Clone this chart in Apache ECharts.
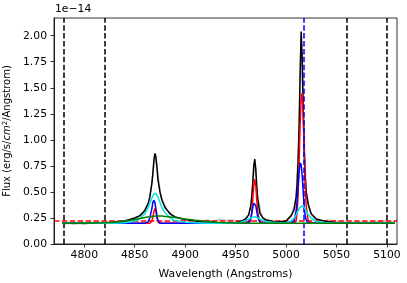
<!DOCTYPE html>
<html><head><meta charset="utf-8">
<script src="https://cdn.jsdelivr.net/npm/echarts@6/dist/echarts.min.js"></script>
<style>html,body{margin:0;padding:0;background:#fff}#c{width:407px;height:283px}</style>
</head><body><div id="c"></div>
<script>
// Wavelength grid shared by the model components (Angstrom)
const wave = [4778,4800,4820,4830,4840,4850,4855,4860,4863,4865,4867,4868,4869,4870,4871,4872,4873,4875,4877,4880,4885,4890,4900,4910,4920,4930,4940,4950,4955,4960,4963,4965,4966,4967,4968,4969,4970,4971,4972,4974,4977,4980,4990,5000,5005,5008,5010,5011,5012,5013,5014,5015,5016,5017,5018,5019,5020,5022,5025,5030,5040,5050,5060,5080,5100,5108];
// Flux values (units of 1e-14)
const totalModel = [0.20,0.20,0.205,0.21,0.22,0.25,0.27,0.32,0.38,0.45,0.58,0.68,0.80,0.87,0.84,0.74,0.62,0.50,0.42,0.35,0.29,0.26,0.235,0.222,0.212,0.207,0.204,0.205,0.215,0.24,0.28,0.36,0.45,0.58,0.75,0.815,0.72,0.55,0.43,0.30,0.25,0.23,0.21,0.22,0.27,0.33,0.45,0.58,0.80,1.15,1.65,2.04,1.80,1.30,0.90,0.65,0.50,0.38,0.29,0.24,0.215,0.205,0.20,0.20,0.20,0.20];
const narrowComp = [0.20,0.20,0.20,0.20,0.20,0.20,0.20,0.20,0.20,0.20,0.22,0.26,0.31,0.34,0.31,0.25,0.21,0.20,0.20,0.20,0.20,0.20,0.20,0.20,0.20,0.20,0.20,0.20,0.20,0.20,0.20,0.22,0.30,0.42,0.56,0.62,0.56,0.42,0.30,0.21,0.20,0.20,0.20,0.20,0.20,0.20,0.22,0.30,0.48,0.80,1.15,1.40,1.45,1.25,0.90,0.58,0.36,0.22,0.20,0.20,0.20,0.20,0.20,0.20,0.20,0.20];
const midComp = [0.20,0.20,0.20,0.20,0.20,0.20,0.20,0.20,0.21,0.25,0.34,0.40,0.42,0.40,0.34,0.28,0.23,0.20,0.20,0.20,0.20,0.20,0.20,0.20,0.20,0.20,0.20,0.20,0.20,0.20,0.21,0.25,0.29,0.35,0.39,0.40,0.37,0.31,0.26,0.21,0.20,0.20,0.20,0.20,0.20,0.22,0.32,0.42,0.56,0.70,0.78,0.76,0.66,0.50,0.36,0.27,0.23,0.20,0.20,0.20,0.20,0.20,0.20,0.20,0.20,0.20];
const broadComp = [0.20,0.20,0.20,0.20,0.205,0.22,0.24,0.29,0.34,0.39,0.44,0.46,0.48,0.487,0.485,0.47,0.45,0.40,0.35,0.30,0.25,0.225,0.21,0.205,0.20,0.20,0.20,0.20,0.21,0.225,0.24,0.25,0.255,0.258,0.26,0.262,0.26,0.256,0.252,0.24,0.225,0.215,0.205,0.205,0.22,0.25,0.28,0.30,0.32,0.34,0.355,0.362,0.365,0.36,0.35,0.335,0.315,0.28,0.245,0.215,0.203,0.20,0.20,0.20,0.20,0.20];
const veryBroadComp = [0.20,0.20,0.205,0.21,0.22,0.235,0.245,0.255,0.26,0.262,0.265,0.266,0.267,0.268,0.269,0.27,0.27,0.27,0.268,0.265,0.26,0.255,0.24,0.228,0.218,0.21,0.205,0.202,0.20,0.20,0.20,0.20,0.20,0.20,0.20,0.20,0.20,0.20,0.20,0.20,0.20,0.20,0.20,0.20,0.20,0.20,0.20,0.20,0.20,0.20,0.20,0.20,0.20,0.20,0.20,0.20,0.20,0.20,0.20,0.20,0.20,0.20,0.20,0.20,0.20,0.20];
// Observed spectrum (grey)
const dataWave = [4779,4785,4790,4795,4800,4806,4812,4818,4825,4832,4840,4846,4852,4858,4864,4868,4870,4872,4876,4882,4888,4895,4902,4908,4915,4922,4928,4934,4940,4946,4952,4958,4963,4966,4969,4972,4976,4982,4988,4994,5000,5006,5010,5013,5015,5017,5020,5024,5028,5032,5036,5042,5048,5054,5062,5070,5078,5086,5094,5100,5106,5108];
const dataFlux = [0.19,0.20,0.19,0.20,0.19,0.20,0.20,0.21,0.20,0.21,0.22,0.23,0.26,0.30,0.40,0.66,0.86,0.74,0.46,0.33,0.27,0.24,0.23,0.22,0.22,0.23,0.22,0.235,0.225,0.23,0.22,0.23,0.28,0.45,0.80,0.44,0.26,0.23,0.22,0.21,0.22,0.29,0.44,1.10,2.00,1.35,0.50,0.30,0.24,0.235,0.22,0.23,0.22,0.21,0.21,0.21,0.21,0.21,0.22,0.22,0.21,0.22];
const continuumLevel = 0.221;
const windowEdges = [4780,4820,5060,5100];
const lineCentre = 5018;
const xTicks = [4800,4850,4900,4950,5000,5050,5100];
const yTicks = [0,0.25,0.5,0.75,1.0,1.25,1.5,1.75,2.0];

const zip = (xs, ys) => xs.map((x,i)=>[x, ys[i]]);
const font = 'DejaVu Sans';
const chart = echarts.init(document.getElementById('c'), null, {renderer:'canvas'});
const lineSeries = (name, ys, color, z, xs) => ({
  name, type:'line', data: zip(xs || wave, ys), showSymbol:false, symbol:'none',
  lineStyle:{color, width:1.5}, z, animation:false
});
chart.setOption({
  animation:false,
  backgroundColor:'#fff',
  grid:{left:54, top:18, right:10, bottom:39, show:false, containLabel:false, outerBoundsMode:'none'},
  xAxis:{
    type:'value', min:4770, max:5110,
    name:'Wavelength (Angstroms)', nameLocation:'middle', nameGap:25,
    nameTextStyle:{fontFamily:font, fontSize:10.8, color:'#000'},
    axisLine:{onZero:false, lineStyle:{color:'#000', width:0.8}},
    axisTick:{customValues:xTicks, length:3.5, lineStyle:{color:'#000', width:0.8}},
    axisLabel:{customValues:xTicks, fontFamily:font, fontSize:10.8, color:'#000', margin:6,
      formatter:v=>String(v)},
    splitLine:{show:false}
  },
  yAxis:{
    type:'value', min:0, max:2.17,
    name:'Flux (erg/s/{i|cm}{s|2}/Angstrom)', nameLocation:'middle', nameGap:41, nameRotate:90,
    nameTextStyle:{fontFamily:font, fontSize:10, color:'#000',
      rich:{i:{fontFamily:font, fontStyle:'italic', fontSize:10}, s:{fontFamily:font, fontSize:7, verticalAlign:'top', padding:[0,0,4,0]}}},
    axisLine:{lineStyle:{color:'#000', width:0.8}},
    axisTick:{customValues:yTicks, length:3.5, lineStyle:{color:'#000', width:0.8}},
    axisLabel:{customValues:yTicks, fontFamily:font, fontSize:10.8, color:'#000', margin:7,
      formatter:v=>v.toFixed(2)},
    splitLine:{show:false}
  },
  graphic:[
    {type:'rect', shape:{x:54, y:18, width:343, height:226}, style:{fill:'none', stroke:'#000', lineWidth:0.8}, z:100, silent:true},
    {type:'text', left:55, top:4, style:{text:'1e\u221214', fontFamily:font, fontSize:10.8, fill:'#000'}}
  ],
  series:[
    lineSeries('data', dataFlux, '#c4c4c4', 1, dataWave),
    {
      type:'line', data:[[4770,continuumLevel],[5110,continuumLevel]], symbol:'none',
      lineStyle:{color:'#ff0000', width:1.5, type:[5.5,2.4]}, z:2
    },
    lineSeries('total', totalModel, '#000000', 3),
    lineSeries('narrow', narrowComp, '#ff0000', 4),
    lineSeries('mid', midComp, '#0000ff', 5),
    lineSeries('broad', broadComp, '#00e5e5', 6),
    lineSeries('verybroad', veryBroadComp, '#008000', 7),
    {
      type:'line', data:[], z:8,
      markLine:{symbol:'none', silent:true, animation:false, label:{show:false},
        lineStyle:{color:'#000', width:1.5, type:[5.5,2.4]},
        data: windowEdges.map(x=>({xAxis:x}))}
    },
    {
      type:'line', data:[], z:9,
      markLine:{symbol:'none', silent:true, animation:false, label:{show:false},
        lineStyle:{color:'#0000ff', width:1.5, type:[5.5,2.4]},
        data:[{xAxis:lineCentre}]}
    }
  ]
});
</script></body></html>
